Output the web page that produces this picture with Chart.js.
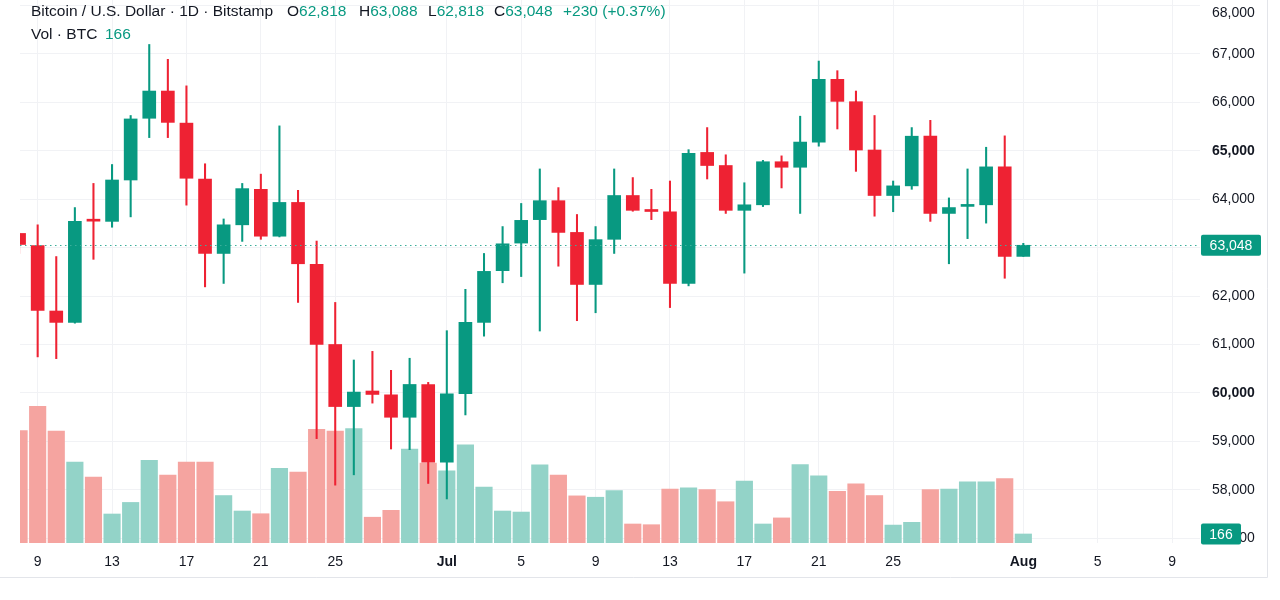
<!DOCTYPE html>
<html>
<head>
<meta charset="utf-8">
<script src="https://cdn.jsdelivr.net/npm/chart.js@4.4.1/dist/chart.umd.min.js"></script>
<style>
  html, body { margin: 0; padding: 0; background: #ffffff; }
  #wrap { position: relative; width: 1280px; height: 600px; overflow: hidden; font-family: "Liberation Sans", Arial, sans-serif; }
  canvas { position: absolute; left: 0; top: 0; }
  .hdr { position: absolute; white-space: nowrap; font-size: 15.5px; line-height: 18px; color: #131722; }
  .v { color: #089981; }
</style>
</head>
<body>
<div id="wrap">
  <canvas id="c" width="1280" height="600"></canvas>
  <div class="hdr" style="left:31px; top:2px;">Bitcoin / U.S. Dollar · 1D · Bitstamp</div>
  <div class="hdr" style="left:287px; top:2px;">O<span class="v" id="hO"></span></div>
  <div class="hdr" style="left:359px; top:2px;">H<span class="v" id="hH"></span></div>
  <div class="hdr" style="left:428px; top:2px;">L<span class="v" id="hL"></span></div>
  <div class="hdr" style="left:494px; top:2px;">C<span class="v" id="hC"></span></div>
  <div class="hdr v" style="left:563px; top:2px;" id="hChg"></div>
  <div class="hdr" style="left:31px; top:25px;">Vol · BTC</div>
  <div class="hdr v" style="left:105px; top:25px;" id="hVol"></div>
</div>
<script>
// ---- Data (daily candles, Bitstamp BTC/USD, Jun 8 – Aug 1) ----
const dates = ['Jun 8','Jun 9','Jun 10','Jun 11','Jun 12','Jun 13','Jun 14','Jun 15','Jun 16','Jun 17','Jun 18','Jun 19','Jun 20','Jun 21','Jun 22','Jun 23','Jun 24','Jun 25','Jun 26','Jun 27','Jun 28','Jun 29','Jun 30',
  'Jul 1','Jul 2','Jul 3','Jul 4','Jul 5','Jul 6','Jul 7','Jul 8','Jul 9','Jul 10','Jul 11','Jul 12','Jul 13','Jul 14','Jul 15','Jul 16','Jul 17','Jul 18','Jul 19','Jul 20','Jul 21','Jul 22','Jul 23','Jul 24','Jul 25','Jul 26','Jul 27','Jul 28','Jul 29','Jul 30','Jul 31','Aug 1'];
const opens  = [63292,63043,61691,61456,63560,63541,64395,65669,66231,65569,64416,62879,63470,64203,63235,63932,62652,61000,59719,60040,59961,59498,60175,
  58573,59983,61456,62523,63093,63577,63968,63313,62239,63171,64075,63770,63740,62260,64964,64694,63769,63883,64772,64658,65178,66473,66011,65014,64075,64274,65299,63705,63850,63883,64666,62818];
const highs  = [63300,63470,62815,63826,64324,64715,65726,67192,66886,66338,64730,63591,64324,64516,65512,64182,63135,61868,60680,60858,60467,60716,60218,
  61285,62139,62879,63434,63911,64623,64238,63683,63434,64623,64445,64203,64374,65021,65477,64915,64338,64800,64893,65712,66850,66651,66231,65726,64374,65477,65626,64025,64623,65071,65306,63088];
const lows   = [62879,60744,60708,61440,62758,63420,63634,65270,65270,63876,62189,62260,63128,63171,63220,61868,59057,58097,58310,59790,58843,58830,58132,
  57812,59546,61172,62274,62402,61278,62616,61491,61655,62879,63750,63577,61762,62210,64416,63705,62473,63847,64231,63705,65093,65448,64573,63648,63740,64203,63541,62666,63185,63505,62367,62818];
const closes = [63064,61705,61456,63541,63545,64395,65655,66231,65584,64431,62879,63470,64217,63235,63932,62666,61000,59719,60018,59969,59498,60175,58573,
  59983,61456,62509,63078,63562,63968,63313,62239,63164,64075,63769,63745,62260,64943,64694,63769,63883,64772,64658,65178,66473,66018,65014,64075,64274,65299,63705,63826,63870,64666,62818,63048];
const volumes = [2072,2517,2061,1490,1214,534,747,1522,1249,1490,1490,874,589,539,1374,1306,2092,2061,2105,475,602,1730,1470,
  1330,1807,1032,589,570,1439,1249,868,843,964,350,337,995,1014,983,760,1141,350,462,1444,1236,951,1090,874,330,381,983,995,1128,1128,1185,166];
// x-axis ticks: day offset from Jun 9, and their labels
const tickDays   = [0, 4, 8, 12, 16, 22, 26, 30, 34, 38, 42, 46, 53, 57, 61];
const tickLabels = ['9','13','17','21','25','Jul','5','9','13','17','21','25','Aug','5','9'];
const boldTickLabels = ['Jul','Aug'];
// price-axis ticks
const priceTicks = [57000,58000,59000,60000,61000,62000,63000,64000,65000,66000,67000,68000];
const boldPriceTicks = [60000, 65000];

// ---- Styling ----
const UP = '#089981', DOWN = '#EE2233';
const UP_VOL = '#93d3c8', DOWN_VOL = '#f5a4a0';
const TEXT = '#131722', GRID = '#f1f2f5';
const FONT = '"Liberation Sans", Arial, sans-serif';

const fmt = v => v.toLocaleString('en-US');
const last = closes.length - 1;
const chg = closes[last] - opens[last];
document.getElementById('hO').textContent = fmt(opens[last]);
document.getElementById('hH').textContent = fmt(highs[last]);
document.getElementById('hL').textContent = fmt(lows[last]);
document.getElementById('hC').textContent = fmt(closes[last]);
document.getElementById('hChg').textContent = (chg >= 0 ? '+' : '') + fmt(chg) + ' (' + (chg >= 0 ? '+' : '') + (chg / opens[last] * 100).toFixed(2) + '%)';
document.getElementById('hVol').textContent = fmt(volumes[last]);

const xOf = i => i - 1; // Jun 8 = -1, Jun 9 = 0 ...
const isUp = i => closes[i] >= opens[i];

const bodies = dates.map((d, i) => ({ x: xOf(i), y: [opens[i], closes[i]] }));
const wicks  = dates.map((d, i) => ({ x: xOf(i), y: [lows[i], highs[i]] }));
const vols   = dates.map((d, i) => ({ x: xOf(i), y: volumes[i] }));

const overlay = {
  id: 'overlay',
  afterDatasetsDraw(chart) {
    const { ctx, chartArea, scales } = chart;
    const y = Math.round(scales.y.getPixelForValue(closes[last])) + 0.5;
    ctx.save();
    ctx.strokeStyle = '#3aae9a';
    ctx.lineWidth = 1;
    ctx.setLineDash([1.5, 3.5]);
    ctx.beginPath();
    ctx.moveTo(chartArea.left, y);
    ctx.lineTo(chartArea.right, y);
    ctx.stroke();
    ctx.restore();
  },
  afterDraw(chart) {
    const { ctx, chartArea, scales } = chart;
    ctx.save();
    ctx.strokeStyle = '#e3e5ea';
    ctx.lineWidth = 1;
    ctx.beginPath();
    ctx.moveTo(1267.5, 0); ctx.lineTo(1267.5, 577.5); ctx.lineTo(0, 577.5);
    ctx.stroke();
    const box = (txt, cy, w) => {
      const x0 = chartArea.right + 1, h = 21;
      ctx.fillStyle = UP;
      ctx.beginPath();
      ctx.roundRect(x0, cy - h / 2, w, h, 2);
      ctx.fill();
      ctx.fillStyle = '#ffffff';
      ctx.font = '14px ' + FONT;
      ctx.textAlign = 'center';
      ctx.textBaseline = 'middle';
      ctx.fillText(txt, x0 + w / 2, cy + 1);
    };
    box(fmt(closes[last]), scales.y.getPixelForValue(closes[last]), 60);
    box(fmt(volumes[last]), scales.y2.getPixelForValue(volumes[last]), 40);
    ctx.restore();
  }
};

new Chart(document.getElementById('c'), {
  type: 'bar',
  data: {
    datasets: [
      { label: 'Volume', data: vols, yAxisID: 'y2', order: 3, grouped: false, barThickness: 16.5,
        backgroundColor: dates.map((d, i) => isUp(i) ? UP_VOL : DOWN_VOL), borderWidth: 0 },
      { label: 'Wick', data: wicks, yAxisID: 'y', order: 2, grouped: false, barThickness: 1.4,
        backgroundColor: dates.map((d, i) => isUp(i) ? UP : DOWN), borderWidth: 0 },
      { label: 'Body', data: bodies, yAxisID: 'y', order: 1, grouped: false, barThickness: 13, minBarLength: 2,
        backgroundColor: dates.map((d, i) => isUp(i) ? UP : DOWN), borderWidth: 0 }
    ]
  },
  options: {
    responsive: false,
    animation: false,
    devicePixelRatio: 1,
    layout: { padding: { left: 20, top: 0, right: 13, bottom: 23 } },
    plugins: { legend: { display: false }, tooltip: { enabled: false } },
    scales: {
      x: {
        type: 'linear', min: -0.95, max: 62.5, offset: false,
        grid: { color: GRID, drawTicks: false, offset: false },
        border: { display: false },
        afterBuildTicks: s => { s.ticks = tickDays.map(v => ({ value: v })); },
        afterFit: s => { s.height = 34; },
        ticks: {
          autoSkip: false, maxRotation: 0, padding: 11, color: TEXT,
          callback: (v, i) => tickLabels[i],
          font: ctx => ({ family: FONT, size: 14, weight: boldTickLabels.includes(tickLabels[ctx.index]) ? 'bold' : 'normal' })
        }
      },
      y: {
        position: 'right', min: 56903, max: 68110,
        grid: { color: GRID, drawTicks: false },
        border: { display: false },
        afterBuildTicks: s => { s.ticks = priceTicks.map(v => ({ value: v })); },
        afterFit: s => { s.width = 67; s.paddingTop = 0; s.paddingBottom = 0; },
        ticks: {
          autoSkip: false, padding: 12, color: TEXT,
          // the topmost label sits just below its line so it stays inside the pane
          callback: (v, i) => i === priceTicks.length - 1 ? ['', fmt(priceTicks[i])] : fmt(priceTicks[i]),
          font: ctx => ({ family: FONT, size: 14, lineHeight: 1.1, weight: boldPriceTicks.includes(priceTicks[ctx.index]) ? 'bold' : 'normal' })
        }
      },
      y2: { display: false, min: 0, max: 10000 }
    }
  },
  plugins: [overlay]
});
</script>
</body>
</html>
